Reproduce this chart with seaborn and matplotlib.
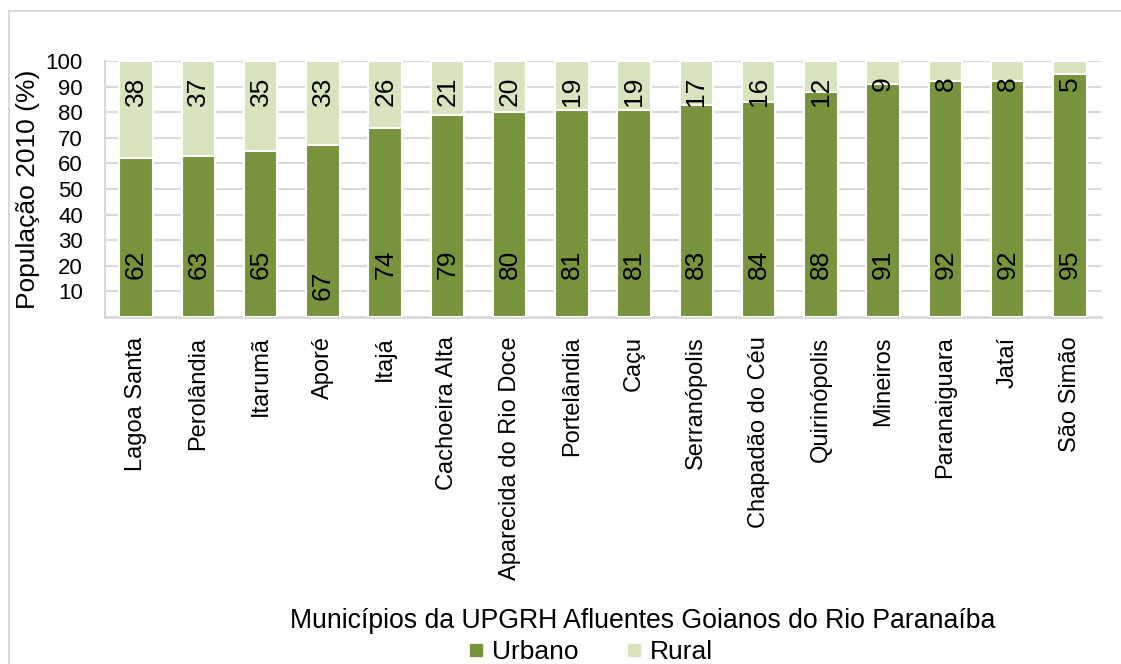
import pandas as pd
import seaborn as sns
import matplotlib.pyplot as plt
from matplotlib.lines import Line2D
from matplotlib.patches import Rectangle

municipios = ["Lagoa Santa", "Perolândia", "Itarumã", "Aporé", "Itajá",
              "Cachoeira Alta", "Aparecida do Rio Doce", "Portelândia", "Caçu",
              "Serranópolis", "Chapadão do Céu", "Quirinópolis", "Mineiros",
              "Paranaiguara", "Jataí", "São Simão"]
urbano = [62, 63, 65, 67, 74, 79, 80, 81, 81, 83, 84, 88, 91, 92, 92, 95]
rural = [38, 37, 35, 33, 26, 21, 20, 19, 19, 17, 16, 12, 9, 8, 8, 5]

verde = "#77933C"
verde_claro = "#D7E4BD"
cinza = "#D9D9D9"

df = pd.DataFrame({"municipio": municipios, "urbano": urbano, "rural": rural})
df["total"] = df["urbano"] + df["rural"]

sns.set_style("white")
plt.rcParams["font.family"] = ["Liberation Sans", "DejaVu Sans"]
plt.rcParams["text.color"] = "black"
plt.rcParams["axes.labelcolor"] = "black"
plt.rcParams["xtick.color"] = "black"
plt.rcParams["ytick.color"] = "black"

fig = plt.figure(figsize=(11.21, 6.64), dpi=100)
ax = fig.add_axes([105/1121, 1 - 317/664, (1101 - 105)/1121, (317 - 61)/664])

# empilhado: total (rural) por baixo, urbano por cima
sns.barplot(data=df, x="municipio", y="total", color=verde_claro, saturation=1,
            width=0.54, edgecolor="white", linewidth=1.5, ax=ax, zorder=2)
sns.barplot(data=df, x="municipio", y="urbano", color=verde, saturation=1,
            width=0.54, edgecolor="white", linewidth=1.5, ax=ax, zorder=3)

for i, row in df.iterrows():
    yb = 6.5 if row["municipio"] == "Aporé" else 15
    ax.text(i, yb, str(row["urbano"]), rotation=90, ha="center", va="bottom",
            fontsize=19, zorder=5)
    ax.text(i, 94, str(row["rural"]), rotation=90, ha="center", va="top",
            fontsize=19, zorder=5)

ax.set_ylim(0, 100)
ax.set_xlim(-0.5, len(municipios) - 0.5)
ax.set_yticks(range(10, 101, 10))
ax.yaxis.grid(True, color=cinza, linewidth=1.5, zorder=0)
ax.set_axisbelow(True)
ax.tick_params(axis="y", length=0, pad=16, labelsize=16)
ax.tick_params(axis="x", length=0, pad=14, labelsize=17)
ax.set_xticks(range(len(municipios)))
ax.set_xticklabels(municipios, rotation=90)
ax.set_xlabel("")
ax.set_ylabel("População 2010 (%)", fontsize=19, labelpad=4)
for s in ["top", "right"]:
    ax.spines[s].set_visible(False)
ax.spines["left"].set_color(cinza)
ax.spines["bottom"].set_color(cinza)
ax.spines["left"].set_linewidth(1.5)
ax.spines["bottom"].set_linewidth(2)

fig.text(643/1121, 1 - 621/664, "Municípios da UPGRH Afluentes Goianos do Rio Paranaíba",
         ha="center", va="center", fontsize=19.2)

handles = [Line2D([], [], marker="s", linestyle="", markersize=8, color=verde),
           Line2D([], [], marker="s", linestyle="", markersize=8, color=verde_claro)]
fig.legend(handles, ["Urbano", "Rural"], loc="center", ncol=2, frameon=False,
           fontsize=19, bbox_to_anchor=(588/1121, 1 - 652/664),
           handletextpad=0.1, columnspacing=1.6, handlelength=1.0, borderpad=0)

fig.patches.append(Rectangle((9/1121, -0.1), 1.2, 1.1 - 10.5/664,
                             transform=fig.transFigure, fill=False,
                             edgecolor=cinza, linewidth=1.5))

fig.savefig("out.png", dpi=100)
